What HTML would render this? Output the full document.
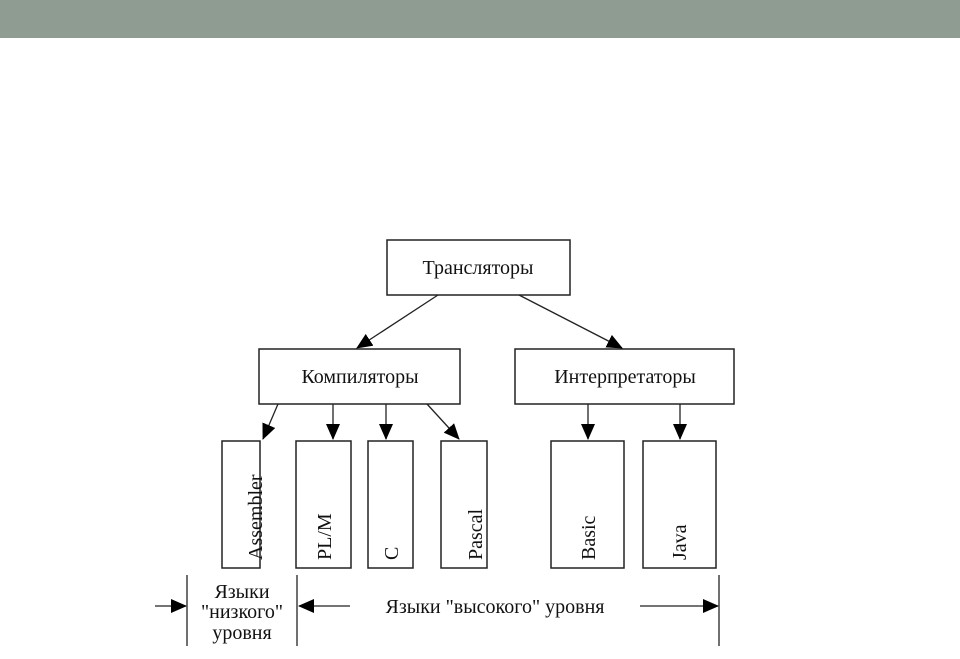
<!DOCTYPE html>
<html><head><meta charset="utf-8"><style>
body{margin:0;width:960px;height:654px;background:#fff;overflow:hidden}
</style></head><body>
<svg width="960" height="654" xmlns="http://www.w3.org/2000/svg" font-family="Liberation Serif, serif" font-size="20" fill="#111">
<defs><marker id="a" markerWidth="10" markerHeight="10" refX="9" refY="5" orient="auto" markerUnits="userSpaceOnUse"><path d="M0,0 L10,5 L0,10 z" fill="#000"/></marker>
<marker id="b" markerWidth="16" markerHeight="14" refX="15" refY="7" orient="auto" markerUnits="userSpaceOnUse"><path d="M0,0 L16,7 L0,14 z" fill="#000"/></marker></defs>
<rect x="0" y="0" width="960" height="38" fill="#8e9c92"/>
<g fill="#fff" stroke="#222" stroke-width="1.5">
<rect x="387" y="240" width="183" height="55"/>
<rect x="259" y="349" width="201" height="55"/>
<rect x="515" y="349" width="219" height="55"/>
<rect x="222" y="441" width="38" height="127"/>
<rect x="296" y="441" width="55" height="127"/>
<rect x="368" y="441" width="45" height="127"/>
<rect x="441" y="441" width="46" height="127"/>
<rect x="551" y="441" width="73" height="127"/>
<rect x="643" y="441" width="73" height="127"/>
</g>
<g stroke="#222" stroke-width="1.3" fill="none" marker-end="url(#b)">
<line x1="438" y1="295" x2="357" y2="348"/>
<line x1="519" y1="295" x2="622" y2="348"/>
<line x1="278" y1="404" x2="263" y2="439"/>
<line x1="333" y1="404" x2="333" y2="439"/>
<line x1="386" y1="404" x2="386" y2="439"/>
<line x1="427" y1="404" x2="459" y2="439"/>
<line x1="588" y1="404" x2="588" y2="439"/>
<line x1="680" y1="404" x2="680" y2="439"/>
<line x1="155" y1="606" x2="186" y2="606"/>
<line x1="350" y1="606" x2="299" y2="606"/>
<line x1="640" y1="606" x2="718" y2="606"/>
</g>
<g stroke="#222" stroke-width="1.3">
<line x1="187" y1="575" x2="187" y2="646"/>
<line x1="297" y1="575" x2="297" y2="646"/>
<line x1="719" y1="575" x2="719" y2="646"/>
</g>
<g text-anchor="middle">
<text x="478" y="274">Трансляторы</text>
<text x="360" y="383">Компиляторы</text>
<text x="625" y="383">Интерпретаторы</text>
<text x="242" y="598">Языки</text>
<text x="242" y="618">"низкого"</text>
<text x="242" y="639">уровня</text>
<text x="495" y="613">Языки "высокого" уровня</text>
</g>
<g font-size="20">
<text transform="translate(262,560) rotate(-90)">Assembler</text>
<text transform="translate(331,560) rotate(-90)">PL/M</text>
<text transform="translate(398,560) rotate(-90)">C</text>
<text transform="translate(482,560) rotate(-90)">Pascal</text>
<text transform="translate(595,560) rotate(-90)">Basic</text>
<text transform="translate(686,560) rotate(-90)">Java</text>
</g>
</svg>
</body></html>
